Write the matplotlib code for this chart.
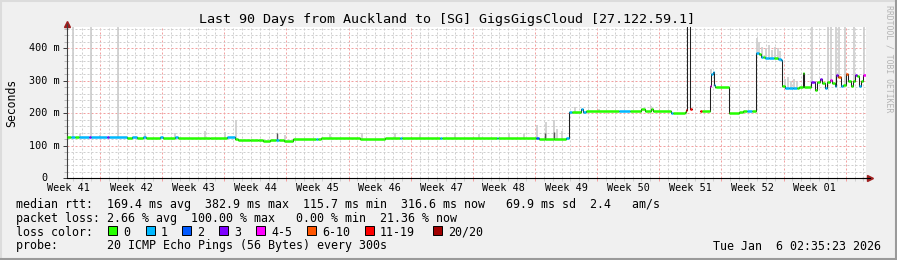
import numpy as np
import matplotlib
matplotlib.use("Agg")
import matplotlib.pyplot as plt
from matplotlib.patches import Rectangle
from matplotlib.lines import Line2D
from matplotlib.transforms import offset_copy

W, H = 897, 260
MONO = "DejaVu Sans Mono"

# median rtt in ms, each value holds from med_day[i] to med_day[i+1]
# (days since the start of the 90 day window)
med_day = [0.00, 0.45, 0.90, 1.35, 2.48, 2.70, 4.50, 4.73, 6.75, 7.31,
           7.88, 8.55, 8.89, 10.46, 10.80, 12.15, 12.49, 16.09, 18.00, 18.90,
           19.24, 20.59, 21.49, 22.05, 22.84, 23.51, 23.85, 24.41, 25.43, 28.01,
           28.24, 28.58, 32.96, 35.78, 37.46, 37.69, 41.96, 42.19, 48.38, 48.60,
           52.88, 53.21, 53.89, 54.90, 56.25, 56.59, 56.93, 57.94, 58.16, 58.50,
           62.21, 63.45, 64.69, 65.14, 65.81, 66.04, 68.06, 68.29, 69.64, 69.75,
           69.86, 70.14, 70.43, 71.33, 71.55, 72.42, 72.53, 72.71,
           72.90, 73.01, 73.13, 74.59, 75.71, 76.16, 76.61, 77.17, 77.57, 77.96,
           78.19, 78.41, 78.64, 79.09, 79.65, 80.10, 80.44, 80.58, 80.89, 81.34,
           81.79, 82.24, 82.46, 82.91, 83.03, 83.85, 84.15, 84.26, 84.52, 84.79,
           85.08, 85.35, 85.65, 85.95, 86.21, 86.48, 86.66, 86.88, 87.15, 87.41,
           87.72, 87.97, 88.28, 88.54, 88.76, 89.02, 89.21, 89.47, 89.70]
med_ms = [128, 128, 128, 128, 128, 128, 128, 128, 125, 127,
          125, 127, 125, 128, 125, 127, 124, 125, 126, 122,
          118, 119, 117, 116, 118, 118, 117, 116, 120, 120,
          120, 123, 122, 123, 123, 123, 123, 123, 123, 123,
          123, 122, 121, 122, 123, 205, 203, 214, 203, 208,
          208, 208, 214, 208, 212, 208, 202, 202, 204, 210,
          700, 212, np.nan, 208, 208, 284, 322, 326,
          287, 282, 280, 202, 204, 206, 206, 208, 385, 381,
          372, 373, 370, 369, 369, 368, 364, 284, 277, 276,
          276, 277, 282, 325, 282, 297, 297, 272, 297, 305,
          292, 277, 297, 302, 292, 284, 318, 311, 284, 287,
          321, 300, 284, 300, 318, 313, 285, 300, 318]
med_loss = [0, 1, 0, 1, 3, 1, 3, 1, 0, 1,
            0, 1, 0, 1, 0, 1, 0, 0, 1, 0,
            0, 0, 0, 0, 0, 1, 0, 0, 0, 1,
            0, 0, 0, 0, 1, 0, 1, 0, 1, 0,
            2, 0, 0, 0, 1, 1, 0, 1, 1, 0,
            1, 0, 0, 0, 0, 0, 1, 0, 0, 6,
            6, 6, 0, 6, 0, 4, 1, 1,
            1, 0, 0, 0, 0, 0, 1, 0, 1, 0,
            1, 0, 1, 1, 0, 1, 1, 0, 1, 1,
            1, 0, 0, 0, 0, 3, 3, 0, 0, 3,
            0, 1, 0, 4, 0, 1, 3, 5, 1, 0,
            5, 0, 0, 0, 3, 0, 1, 0, 4]
end_day = 90.0

# smoke (ping spread) peaks
smoke_day = [0.68, 1.46, 2.71, 3.71, 5.71, 8.77, 12.15, 15.53, 17.78, 19.02,
             24.53, 29.58, 33.18, 36.90, 39.71, 43.65, 46.46, 49.84, 51.53, 52.99,
             54.00, 54.90, 55.23, 55.79, 57.26, 59.96, 65.81, 72.56, 77.74, 77.91,
             78.25, 78.70, 79.04, 79.38, 79.71, 80.05, 80.28, 80.84, 81.18, 81.51,
             81.85, 82.19, 83.88, 85.68, 86.02, 86.58, 86.92, 87.59, 88.60, 89.72]
smoke_top = [1000, 135, 1000, 133, 1000, 140, 138, 145, 143, 179,
             132, 135, 138, 140, 136, 139, 137, 140, 136, 164,
             174, 179, 150, 145, 218, 214, 222, 335, 432, 420,
             405, 400, 410, 395, 405, 400, 390, 305, 310, 300,
             305, 298, 1000, 1000, 1000, 1000, 1000, 1000, 1000, 1000]
dark_day = [23.63, 53.89, 54.90]
dark_top = [140, 139, 143]

loss_colors = ["#26ff00", "#00b8ff", "#0059ff", "#7e00ff",
               "#ff00ff", "#ff5500", "#ff0000", "#a10000"]
loss_names = ["0", "1", "2", "3", "4-5", "6-10", "11-19", "20/20"]

week_names = ["Week 41", "Week 42", "Week 43", "Week 44", "Week 45", "Week 46",
              "Week 47", "Week 48", "Week 49", "Week 50", "Week 51", "Week 52",
              "Week 01"]
first_week_start = 3.71
y_ticks = [0, 100, 200, 300, 400]
y_labels = ["0", "100 m", "200 m", "300 m", "400 m"]


def px(x):
    return x / W


def py(y):
    return 1 - y / H


fig = plt.figure(figsize=(W / 100, H / 100), dpi=100, facecolor="#f0f0f0")
ax = fig.add_axes([px(67), py(178.3), px(866) - px(67), py(27) - py(178.3)])
ax.set_facecolor("white")
ax.set_xlim(0, end_day)
ax.set_ylim(0, 465)

# grid
week_lines = [first_week_start + 7 * k for k in range(13)]
day_lines = [first_week_start - 3 + k for k in range(90)]
ax.set_xticks(week_lines)
ax.set_xticks(day_lines, minor=True)
ax.set_yticks(y_ticks)
ax.set_yticks(np.arange(0, 461, 20), minor=True)
ax.set_xticklabels([])
ax.set_yticklabels([])
ax.grid(which="minor", color="#cfcfcf", lw=0.72, ls=(0, (2, 2)))
ax.grid(which="major", color="#f2a0a0", lw=0.72, ls=(0, (2, 2)))
ax.set_axisbelow(True)
ax.tick_params(which="both", direction="out", length=2, width=0.72)
ax.tick_params(axis="x", which="major", color="#f2a0a0")
ax.tick_params(axis="x", which="minor", color="#cfcfcf")
ax.tick_params(axis="y", which="major", color="#404040", length=3)
ax.tick_params(axis="y", which="minor", color="#bbbbbb")

# smoke
days = np.array(med_day)
ms = np.array(med_ms, dtype=float)
bounds = np.append(days, end_day)


def median_at(d):
    i = np.searchsorted(days, d, side="right") - 1
    return ms[i]


ax.vlines(smoke_day, [median_at(d) for d in smoke_day], smoke_top,
          color="#cccccc", lw=1.2, zorder=2)
ax.vlines(dark_day, [median_at(d) for d in dark_day], dark_top,
          color="#555555", lw=1.0, zorder=2)

# black connectors between median steps
xs, ys = [], []
for i in range(len(ms)):
    xs += [bounds[i], bounds[i + 1]]
    ys += [ms[i], ms[i]]
ax.plot(xs, ys, color="#202020", lw=0.75, zorder=3)

# loss coloured median
ax.hlines(ms, bounds[:-1], bounds[1:],
          colors=[loss_colors[k] for k in med_loss], lw=1.8, zorder=4,
          capstyle="butt")

for s in ["top", "right"]:
    ax.spines[s].set_visible(False)
ax.spines["left"].set_color("#404040")
ax.spines["left"].set_linewidth(0.8)
ax.spines["bottom"].set_color("black")
ax.spines["bottom"].set_linewidth(0.8)

# arrows at the axis ends
up = offset_copy(ax.transAxes, fig=fig, x=0, y=3, units="dots")
ax.plot([0], [1], marker="^", ms=4.5, color="#a02020", transform=up, clip_on=False)
ax.plot([0, 0], [0.97, 1.0], color="#404040", lw=0.8, transform=up, clip_on=False)
right = offset_copy(ax.transAxes, fig=fig, x=4, y=0, units="dots")
ax.plot([1], [0], marker=">", ms=4.5, color="#a02020", transform=right, clip_on=False)
ax.plot([0.99, 1.0], [0, 0], color="black", lw=0.8, transform=right, clip_on=False)

# axis labels
for k, name in enumerate(week_names):
    ax.text(first_week_start - 3.5 + 7 * k, 0, name, transform=offset_copy(
        ax.get_xaxis_transform(), fig=fig, x=0, y=-9.5, units="dots"),
        ha="center", va="center", fontsize=7.3, family=MONO)
for v, lab in zip(y_ticks, y_labels):
    shift = -7 if " m" in lab else -20
    ax.text(0, v, lab, transform=offset_copy(
        ax.get_yaxis_transform(), fig=fig, x=shift, y=0, units="dots"),
        ha="right", va="center", fontsize=7.3, family=MONO)
fig.text(px(12), py(102.5), "Seconds", rotation=90, ha="center", va="center",
         fontsize=8.3, family=MONO)

fig.text(px(447), py(19), "Last 90 Days from Auckland to [SG] GigsGigsCloud [27.122.59.1]",
         ha="center", va="center", fontsize=9.6, family=MONO)
fig.text(px(889), py(59), "RRDTOOL / TOBI OETIKER", rotation=270, ha="center",
         va="center", fontsize=5.9, family=MONO, color="#b4b4b4")

# legend
leg = dict(ha="left", va="center", fontsize=8.4, family=MONO)
fig.text(px(16), py(204.3), "median rtt:  169.4 ms avg  382.9 ms max  115.7 ms min  "
         "316.6 ms now   69.9 ms sd  2.4   am/s", **leg)
fig.text(px(16), py(218.3), "packet loss: 2.66 % avg  100.00 % max   0.00 % min  "
         "21.36 % now", **leg)
fig.text(px(16), py(232.3), "loss color:", **leg)
fig.text(px(16), py(246), "probe:       20 ICMP Echo Pings (56 Bytes) every 300s", **leg)
fig.text(px(880.7), py(246), "Tue Jan  6 02:35:23 2026", ha="right", va="center",
         fontsize=8.4, family=MONO)

label_x = [123.3, 160.7, 197.3, 234.3, 271, 322, 380, 448]
for lx, col, name in zip(label_x, loss_colors, loss_names):
    fig.patches.append(Rectangle((px(lx - 15), py(234.5)), px(9), 9 / H,
                                 facecolor=col, edgecolor="black", lw=0.7,
                                 transform=fig.transFigure))
    fig.text(px(lx), py(232.3), name, **leg)

# 3d border of the canvas
fig.lines.append(Line2D([0, 1], [py(0.5), py(0.5)], color="#dcdcdc", lw=1.5, transform=fig.transFigure))
fig.lines.append(Line2D([px(0.5), px(0.5)], [0, 1], color="#dcdcdc", lw=1.5, transform=fig.transFigure))
fig.lines.append(Line2D([0, 1], [py(259), py(259)], color="#9a9a9a", lw=1.5, transform=fig.transFigure))
fig.lines.append(Line2D([px(896), px(896)], [0, 1], color="#9a9a9a", lw=1.5, transform=fig.transFigure))

fig.savefig("out.png", dpi=100, facecolor=fig.get_facecolor())
